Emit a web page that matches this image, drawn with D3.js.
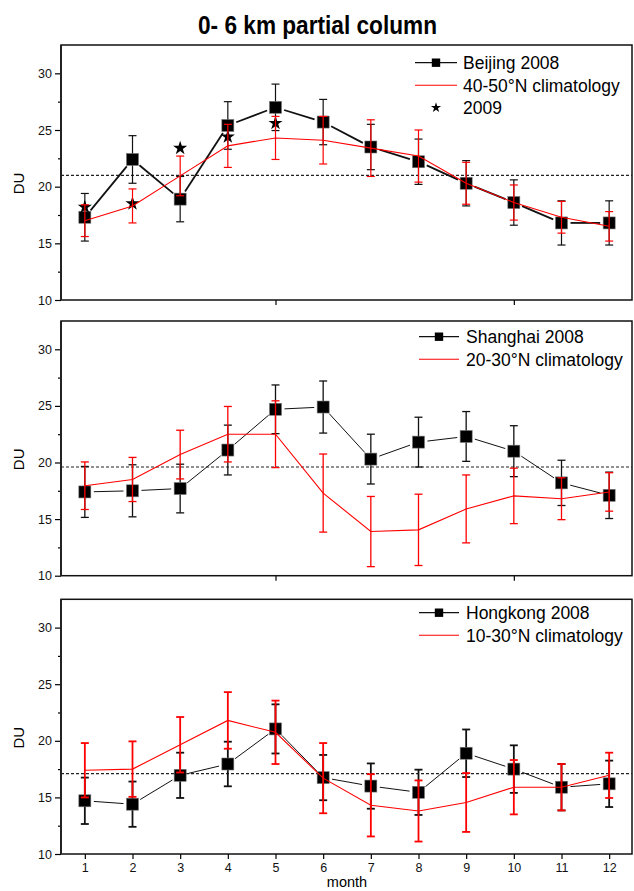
<!DOCTYPE html>
<html>
<head>
<meta charset="utf-8">
<script src="https://cdn.jsdelivr.net/npm/d3@7"></script>
<style>
  body { margin: 0; background: #fff; }
  svg { display: block; font-family: "Liberation Sans", Arial, sans-serif; }
</style>
</head>
<body>
<svg id="chart" width="634" height="891"></svg>
<script>
// ---------------- data ----------------
const months = [1, 2, 3, 4, 5, 6, 7, 8, 9, 10, 11, 12];
const yTicks = [10, 15, 20, 25, 30];
const yMinorTicks = [12.5, 17.5, 22.5, 27.5];
const xTickLabels = ["1","2","3","4","5","6","7","8","9","10","11","12"];

const beijingVal  = [17.3, 22.4, 18.9, 25.4, 27.0, 25.7, 23.5, 22.2, 20.3, 18.6, 16.8, 16.8];
const beijingErr  = [2.1, 2.1, 2.0, 2.1, 2.05, 2.0, 2.0, 2.0, 2.0, 2.0, 1.95, 1.95];
const clim4050Val = [17.0, 18.3, 20.95, 23.6, 24.3, 24.1, 23.4, 22.7, 20.3, 18.6, 17.3, 16.5];
const clim4050Err = [1.4, 1.5, 1.75, 1.9, 1.9, 2.1, 2.5, 2.3, 1.85, 1.55, 1.4, 1.3];
const beijing2009 = [18.2, 18.5, 23.4, 24.4, 25.6];
const beijingRef  = 21.0;

const shanghaiVal = [17.4, 17.5, 17.7, 21.1, 24.7, 24.9, 20.3, 21.8, 22.3, 21.0, 18.2, 17.1];
const shanghaiErr = [2.25, 2.3, 2.15, 2.2, 2.15, 2.3, 2.2, 2.2, 2.2, 2.25, 2.0, 2.05];
const clim2030Val = [17.95, 18.5, 20.7, 22.5, 22.5, 17.3, 13.9, 14.05, 15.9, 17.05, 16.8, 17.4];
const clim2030Err = [2.1, 1.95, 2.15, 2.45, 2.95, 3.45, 3.1, 3.15, 3.0, 2.45, 1.85, 1.7];
const shanghaiRef = 19.6;

const hongkongVal = [14.7, 14.4, 16.95, 17.95, 21.05, 16.75, 16.0, 15.45, 18.9, 17.5, 15.9, 16.2];
const hongkongErr = [2.05, 2.0, 2.0, 1.97, 2.17, 2.0, 2.0, 2.0, 2.1, 2.1, 2.05, 2.05];
const clim1030Val = [17.4, 17.5, 19.65, 21.8, 20.75, 16.7, 14.3, 13.8, 14.55, 15.9, 15.9, 16.95];
const clim1030Err = [2.4, 2.45, 2.45, 2.5, 2.8, 3.1, 2.75, 2.7, 2.6, 2.4, 2.05, 2.0];
const hongkongRef = 17.1;

const panels = [
  { city: "Beijing 2008", clim: "40-50°N climatology", val: beijingVal, err: beijingErr,
    cval: clim4050Val, cerr: clim4050Err, ref: beijingRef, extra: beijing2009, extraLabel: "2009",
    top: 45, bottom: 300, lineW: 1.8, barW: 1.2, legX1: 415, legX2: 457, legTx: 463, legY: 62.7 },
  { city: "Shanghai 2008", clim: "20-30°N climatology", val: shanghaiVal, err: shanghaiErr,
    cval: clim2030Val, cerr: clim2030Err, ref: shanghaiRef,
    top: 321, bottom: 575.7, lineW: 1, barW: 1.3, legX1: 419, legX2: 459, legTx: 466, legY: 336.7 },
  { city: "Hongkong 2008", clim: "10-30°N climatology", val: hongkongVal, err: hongkongErr,
    cval: clim1030Val, cerr: clim1030Err, ref: hongkongRef,
    top: 599.3, bottom: 854, lineW: 1, barW: 1.8, legX1: 419, legX2: 459, legTx: 466, legY: 612.7 }
];

// ---------------- drawing ----------------
const svg = d3.select("#chart");
const x = d3.scaleLinear().domain([0.5, 12.5]).range([61, 633]);

svg.append("text")
  .attr("x", 198).attr("y", 34)
  .attr("font-size", 25).attr("font-weight", "bold")
  .attr("textLength", 239).attr("lengthAdjust", "spacingAndGlyphs")
  .text("0- 6 km partial column");

const sq = 12, cap = 4, gap = 9;

panels.forEach((p, pi) => {
  const y = d3.scaleLinear().domain([10, 32.5]).range([p.bottom, p.top]);
  const g = svg.append("g");

  // y axis major
  const ya = g.append("g").attr("transform", `translate(${x.range()[0]},0)`)
    .call(d3.axisLeft(y).tickValues(yTicks).tickSize(6).tickPadding(3).tickFormat(d3.format("d")));
  ya.select(".domain").remove();
  ya.selectAll("text").attr("font-size", 12.5).attr("font-family", "Liberation Sans, Arial, sans-serif").attr("fill", "#111");
  ya.selectAll("line").attr("stroke-width", 1.2);
  // y axis minor
  const ym = g.append("g").attr("transform", `translate(${x.range()[0]},0)`)
    .call(d3.axisLeft(y).tickValues(yMinorTicks).tickSize(3).tickFormat(""));
  ym.select(".domain").remove();
  ym.selectAll("line").attr("stroke-width", 1.2);

  // x axis
  const last = pi === panels.length - 1;
  const xa = g.append("g").attr("transform", `translate(0,${p.bottom})`)
    .call(d3.axisBottom(x).tickValues(last ? months : [5, 10]).tickSize(5).tickPadding(4)
      .tickFormat(last ? (d, i) => xTickLabels[i] : ""));
  xa.select(".domain").remove();
  xa.selectAll("line").attr("stroke-width", 1.2);
  xa.selectAll("text").attr("font-size", 12.5).attr("font-family", "Liberation Sans, Arial, sans-serif").attr("fill", "#111");

  // frame
  g.append("rect")
    .attr("x", x.range()[0]).attr("y", p.top)
    .attr("width", x.range()[1] - x.range()[0] - 1).attr("height", p.bottom - p.top)
    .attr("fill", "none").attr("stroke", "#111").attr("stroke-width", 1.5);
  g.append("line")
    .attr("x1", x.range()[0]).attr("x2", x.range()[0])
    .attr("y1", p.top).attr("y2", p.bottom)
    .attr("stroke", "#222").attr("stroke-width", 2);

  // DU label
  const cy = (p.top + p.bottom) / 2 + 11;
  g.append("text")
    .attr("transform", `translate(24,${cy}) rotate(-90)`)
    .attr("text-anchor", "middle").attr("font-size", 15)
    .text("DU");

  // reference dashed line
  g.append("line")
    .attr("x1", x.range()[0]).attr("x2", x.range()[1] - 1)
    .attr("y1", y(p.ref)).attr("y2", y(p.ref))
    .attr("stroke", "#222").attr("stroke-width", 1.1).attr("stroke-dasharray", "3,2");

  // error bar helper
  function errorBars(vals, errs, color, w) {
    const eg = g.append("g").attr("stroke", color).attr("stroke-width", w);
    months.forEach((m, i) => {
      const cx = x(m), y1 = y(vals[i] + errs[i]), y2 = y(vals[i] - errs[i]);
      eg.append("line").attr("x1", cx).attr("x2", cx).attr("y1", y1).attr("y2", y2);
      eg.append("line").attr("x1", cx - cap).attr("x2", cx + cap).attr("y1", y1).attr("y2", y1);
      eg.append("line").attr("x1", cx - cap).attr("x2", cx + cap).attr("y1", y2).attr("y2", y2);
    });
  }

  // black series
  errorBars(p.val, p.err, "#111", p.barW);
  const sg = g.append("g").attr("stroke", "#111").attr("stroke-width", p.lineW);
  for (let i = 0; i < months.length - 1; i++) {
    const xa0 = x(months[i]), ya0 = y(p.val[i]), xb = x(months[i + 1]), yb = y(p.val[i + 1]);
    const dx = xb - xa0, dy = yb - ya0, L = Math.hypot(dx, dy);
    if (L <= 2 * gap) continue;
    const ux = dx / L, uy = dy / L;
    sg.append("line")
      .attr("x1", xa0 + ux * gap).attr("y1", ya0 + uy * gap)
      .attr("x2", xb - ux * gap).attr("y2", yb - uy * gap);
  }
  g.append("g").selectAll("rect").data(months).join("rect")
    .attr("x", d => x(d) - sq / 2).attr("y", (d, i) => y(p.val[i]) - sq / 2)
    .attr("width", sq).attr("height", sq)
    .attr("fill", "#000").attr("stroke", "#777").attr("stroke-width", 0.6);

  // 2009 stars
  if (p.extra) {
    g.append("g").selectAll("path").data(p.extra).join("path")
      .attr("transform", (d, i) => `translate(${x(months[i])},${y(d)})`)
      .attr("d", d3.symbol().type(d3.symbolStar).size(62))
      .attr("fill", "#000");
  }

  // red climatology
  errorBars(p.cval, p.cerr, "#ff0000", p.barW);
  g.append("path")
    .datum(months)
    .attr("fill", "none").attr("stroke", "#ff0000").attr("stroke-width", 1.1)
    .attr("d", d3.line().x(d => x(d)).y((d, i) => y(p.cval[i])));

  // legend
  const lg = g.append("g").attr("font-size", 17.5);
  const r1 = p.legY, r2 = p.legY + 22.5, r3 = p.legY + 45;
  const mx = (p.legX1 + p.legX2) / 2;
  lg.append("line").attr("x1", p.legX1).attr("x2", p.legX2).attr("y1", r1).attr("y2", r1)
    .attr("stroke", "#111").attr("stroke-width", 1.3);
  lg.append("rect").attr("x", mx - 4.2).attr("y", r1 - 4.2).attr("width", 8.4).attr("height", 8.4).attr("fill", "#000");
  lg.append("text").attr("x", p.legTx).attr("y", r1 + 6.3).text(p.city);
  lg.append("line").attr("x1", p.legX1).attr("x2", p.legX2).attr("y1", r2).attr("y2", r2)
    .attr("stroke", "#ff0000").attr("stroke-width", 1.1);
  lg.append("text").attr("x", p.legTx).attr("y", r2 + 6.3).text(p.clim);
  if (p.extra) {
    lg.append("path").attr("transform", `translate(${mx},${r3})`)
      .attr("d", d3.symbol().type(d3.symbolStar).size(32)).attr("fill", "#000");
    lg.append("text").attr("x", p.legTx).attr("y", r3 + 6.3).text(p.extraLabel);
  }
});

svg.append("text")
  .attr("x", 347).attr("y", 887).attr("text-anchor", "middle")
  .attr("font-size", 14.5).text("month");
</script>
</body>
</html>
